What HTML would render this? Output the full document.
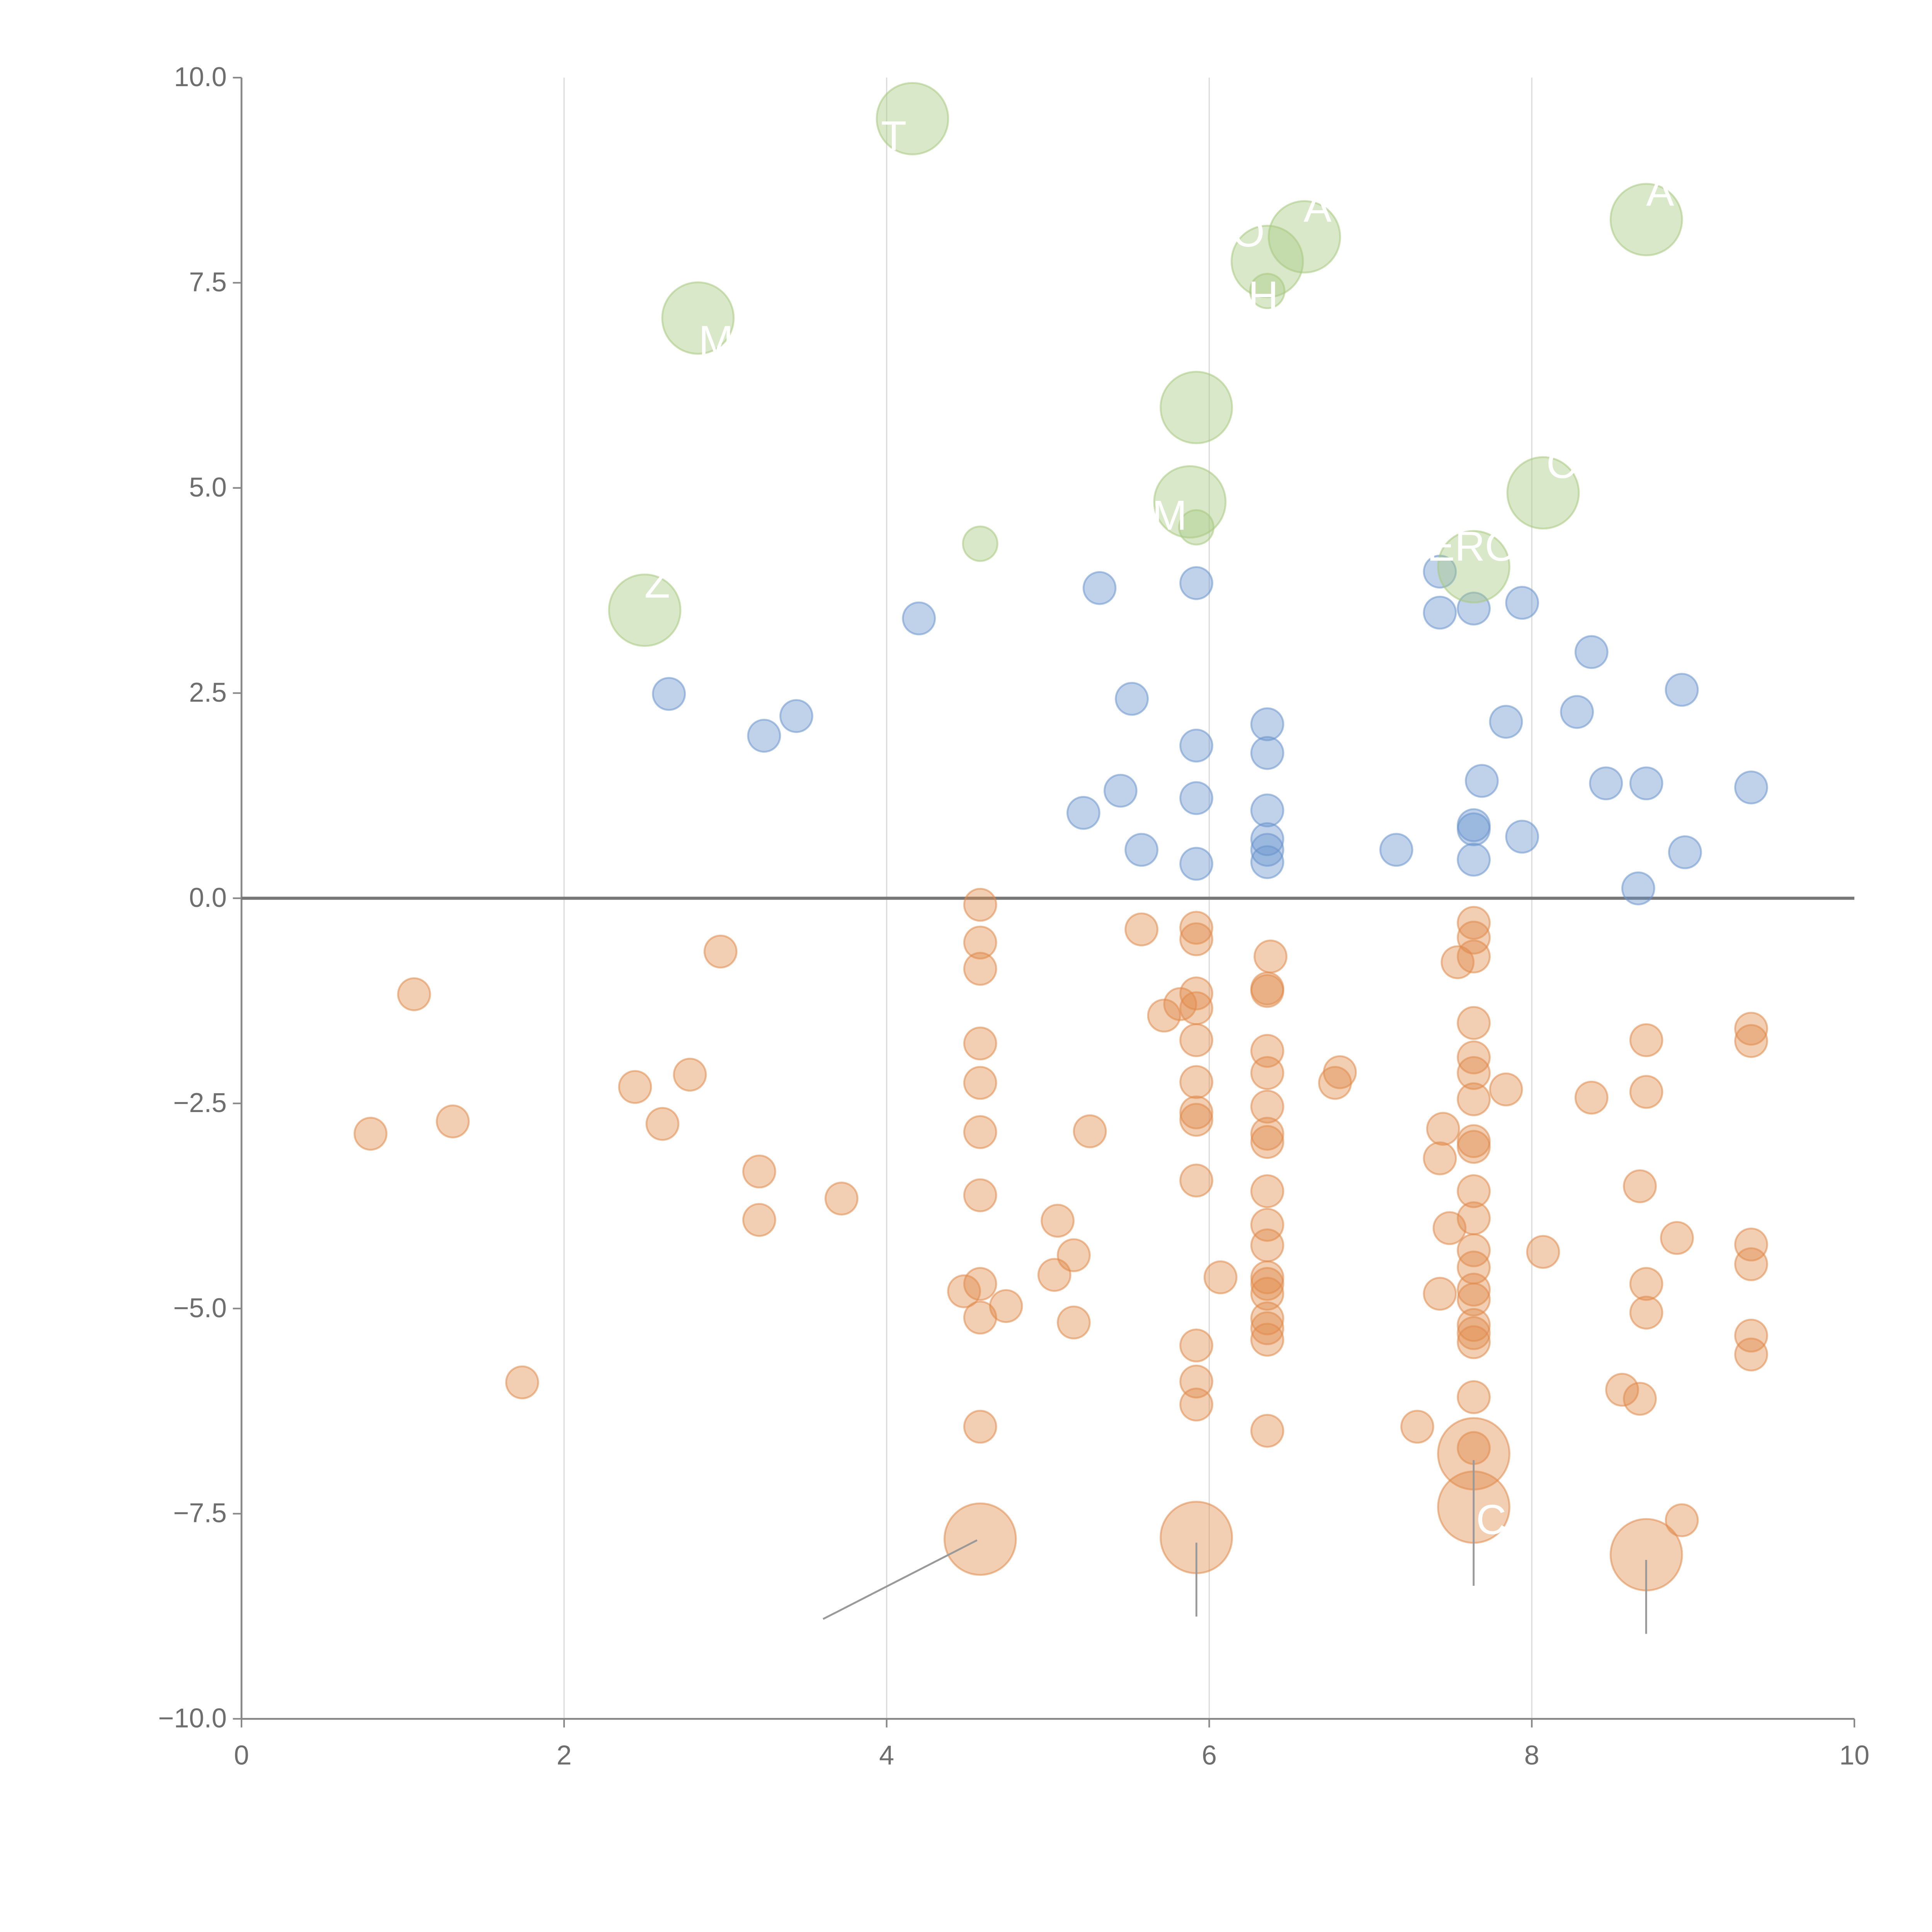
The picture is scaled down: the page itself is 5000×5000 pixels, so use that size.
<!DOCTYPE html>
<html><head><meta charset="utf-8"><style>
html,body{margin:0;padding:0;background:#fff;}
svg{display:block;}
text{font-family:"Liberation Sans",sans-serif;}
</style></head>
<body>
<svg id="chart" width="5000" height="5000" viewBox="0 0 1568 1568" xmlns="http://www.w3.org/2000/svg">
<g id="grid"></g>
<g id="axes"></g>
<g id="marks"></g>
<g id="labels"></g>
</svg>
<script>
const xTicks=[0,2,4,6,8,10];
const yTicks=[-10,-7.5,-5,-2.5,0,2.5,5,7.5,10];
const yTickLabels=["\u221210.0","\u22127.5","\u22125.0","\u22122.5","0.0","2.5","5.0","7.5","10.0"];
const blueX=[2.65,3.24,3.44,4.20,5.32,5.52,5.22,5.45,5.58,5.92,5.92,5.92,5.92,6.36,6.36,6.36,6.36,6.36,6.36,7.16,7.43,7.43,7.64,7.94,7.84,7.69,7.64,7.64,7.64,7.94,8.37,8.28,8.46,8.71,8.66,8.93,8.95,9.36];
const blueY=[2.49,1.98,2.22,3.41,3.78,2.43,1.04,1.31,0.59,3.84,1.86,1.22,0.42,2.12,1.77,1.07,0.72,0.59,0.44,0.59,3.98,3.48,3.53,3.60,2.15,1.43,0.89,0.84,0.47,0.75,3.00,2.27,1.40,1.40,0.12,2.54,0.56,1.35];
const greenX=[4.16,2.83,2.50,4.58,5.92,5.88,5.92,6.36,6.59,6.36,8.71,8.07,7.64];
const greenY=[9.50,7.07,3.51,4.32,5.98,4.83,4.52,7.76,8.06,7.40,8.27,4.94,4.04];
const greenBig=[1,1,1,0,1,1,0,1,1,0,1,1,1];
const orangeX=[0.80,1.07,1.31,1.74,2.44,2.61,2.78,2.97,3.21,3.21,3.72,4.58,4.58,4.58,4.58,4.58,4.58,4.58,4.48,4.58,4.58,4.74,4.58,5.06,5.16,5.04,5.16,5.26,5.58,5.72,5.82,5.92,5.92,5.92,5.92,5.92,5.92,5.92,5.92,5.92,6.07,5.92,5.92,5.92,6.38,6.36,6.36,6.36,6.36,6.36,6.36,6.36,6.36,6.36,6.36,6.36,6.36,6.36,6.36,6.36,6.36,6.36,6.81,6.78,7.29,7.54,7.64,7.64,7.64,7.64,7.64,7.64,7.64,7.84,7.45,7.43,7.64,7.64,7.64,7.64,7.49,7.64,7.64,7.43,7.64,7.64,7.64,7.64,7.64,7.64,7.64,8.07,8.37,8.71,8.71,8.67,8.90,8.71,8.71,8.56,8.67,8.93,9.36,9.36,9.36,9.36,9.36,9.36];
const orangeY=[-2.87,-1.17,-2.72,-5.90,-2.30,-2.75,-2.15,-0.65,-3.33,-3.92,-3.66,-0.08,-0.54,-0.86,-1.77,-2.25,-2.85,-3.62,-4.79,-4.70,-5.11,-4.97,-6.44,-3.93,-4.35,-4.59,-5.17,-2.84,-0.38,-1.43,-1.29,-0.36,-0.50,-1.16,-1.34,-1.73,-2.24,-2.61,-2.70,-3.44,-4.62,-5.45,-5.89,-6.17,-0.71,-1.10,-1.13,-1.86,-2.13,-2.54,-2.87,-2.97,-3.57,-3.98,-4.23,-4.62,-4.70,-4.82,-5.12,-5.24,-5.38,-6.49,-2.12,-2.25,-6.44,-0.78,-0.30,-0.48,-0.71,-1.52,-1.94,-2.13,-2.45,-2.33,-2.81,-3.17,-2.96,-3.03,-3.57,-3.90,-4.02,-4.29,-4.50,-4.82,-4.77,-4.89,-5.20,-5.30,-5.41,-6.08,-6.70,-4.31,-2.43,-1.73,-2.36,-3.51,-4.14,-4.70,-5.05,-5.99,-6.10,-7.58,-1.59,-1.74,-4.22,-4.46,-5.33,-5.56];
const bigOrangeX=[4.58,5.92,7.64,7.64,8.71];
const bigOrangeY=[-7.81,-7.79,-6.77,-7.42,-8.00];

const NS="http://www.w3.org/2000/svg";
const X0=196,X1=1505,Y0=1395,Y1=63;
function sx(v){return X0+(v-0)/(10-0)*(X1-X0);}
function sy(v){return Y0-(v+10)/20*(Y0-Y1);}
function el(tag,attrs,parent){const e=document.createElementNS(NS,tag);for(const k in attrs)e.setAttribute(k,attrs[k]);parent.appendChild(e);return e;}
const grid=document.getElementById('grid'),axes=document.getElementById('axes'),marks=document.getElementById('marks'),labels=document.getElementById('labels');

xTicks.forEach(t=>{
  if(t>0&&t<10){const g=el('line',{x1:sx(t),x2:sx(t),y1:Y1,y2:Y0,stroke:'#dcdcdc','stroke-width':1},grid);
  
  }
  const tk=el('line',{x1:sx(t),x2:sx(t),y1:Y0,y2:Y0+7,stroke:'#888','stroke-width':1.3},axes);
  
  
  const tx=el('text',{x:sx(t),y:Y0+37,'text-anchor':'middle','font-size':22,fill:'#6e6e6e'},axes);
  tx.textContent=String(t);
  
  
});
yTicks.forEach((t,i)=>{
  const tk=el('line',{x1:X0-7,x2:X0,y1:sy(t),y2:sy(t),stroke:'#888','stroke-width':1.3},axes);
  
  
  const tx=el('text',{x:X0-12,y:sy(t)+7,'text-anchor':'end','font-size':22,fill:'#6e6e6e'},axes);
  tx.textContent=yTickLabels[i];
  
  
});
let a=el('line',{x1:X0,x2:X0,y1:Y1,y2:Y0,stroke:'#888','stroke-width':1.5},axes);


a=el('line',{x1:X0,x2:X1,y1:Y0,y2:Y0,stroke:'#888','stroke-width':1.5},axes);


a=el('line',{x1:X0,x2:X1,y1:sy(0),y2:sy(0),stroke:'#777','stroke-width':2.5},axes);



function dot(x,y,r,col,name){
  const c=el('circle',{cx:sx(x),cy:sy(y),r:r,fill:col,'fill-opacity':0.42,stroke:col,'stroke-opacity':0.55,'stroke-width':1.5},marks);
  
  
}
orangeX.forEach((x,i)=>dot(x,orangeY[i],13,'#e08a4a','orange-point'));
bigOrangeX.forEach((x,i)=>dot(x,bigOrangeY[i],29,'#e08a4a','orange-bubble'));
blueX.forEach((x,i)=>dot(x,blueY[i],13,'#6a93cc','blue-point'));
greenX.forEach((x,i)=>dot(x,greenY[i],greenBig[i]?29:14,'#a8c880','green-bubble'));

const leaders=[[668,1314,793,1250],[971,1252,971,1312],[1196,1185,1196,1287],[1336,1266,1336,1326]];
leaders.forEach(l=>{const ln=el('line',{x1:l[0],y1:l[1],x2:l[2],y2:l[3],stroke:'#999','stroke-width':1.5},labels);

});
const labs=[[715,122,'T'],[567,288,'M'],[523,485,'Z'],[935,430,'M'],[1000,200,'O'],[1058,180,'A'],[1013,252,'H'],[1336,167,'A'],[1255,388,'C'],[1158,455,'ERO'],[1198,1245,'C']];
labs.forEach(l=>{const t=el('text',{x:l[0],y:l[1],'font-size':34,fill:'#fff'},labels);t.textContent=l[2];

});
</script>
</body></html>
